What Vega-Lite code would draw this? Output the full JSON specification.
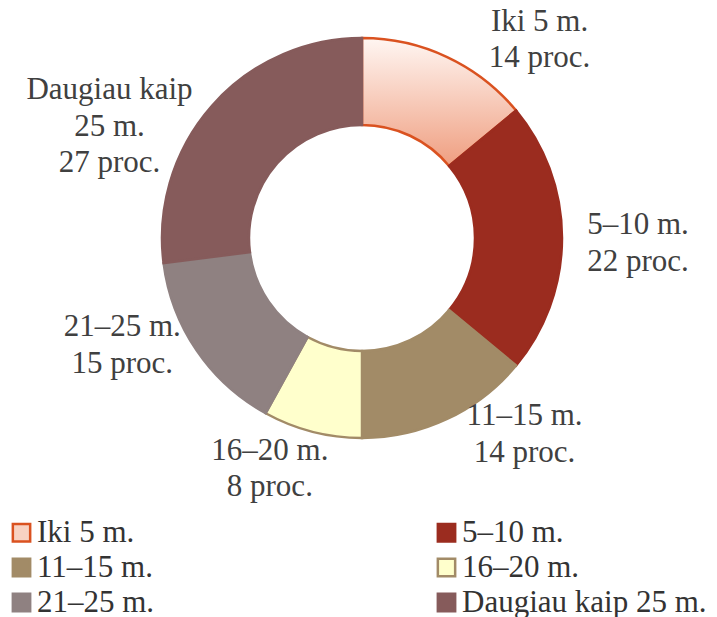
{
  "$schema": "https://vega.github.io/schema/vega-lite/v6.json",
  "width": 710,
  "height": 476,
  "padding": {"left": 7, "top": 0, "right": 0, "bottom": 141},
  "autosize": {"type": "none"},
  "background": "white",
  "config": {"view": {"stroke": null}, "font": "Liberation Serif"},
  "data": {
    "values": [
      {"i": 1, "cat": "Iki 5 m.", "value": 14, "label": "Iki 5 m.\n14 proc."},
      {"i": 2, "cat": "5–10 m.", "value": 22, "label": "5–10 m.\n22 proc."},
      {"i": 3, "cat": "11–15 m.", "value": 14, "label": "11–15 m.\n14 proc."},
      {"i": 4, "cat": "16–20 m.", "value": 8, "label": "16–20 m.\n8 proc."},
      {"i": 5, "cat": "21–25 m.", "value": 15, "label": "21–25 m.\n15 proc."},
      {"i": 6, "cat": "Daugiau kaip 25 m.", "value": 27, "label": "Daugiau kaip\n25 m.\n27 proc."}
    ]
  },
  "encoding": {
    "theta": {"field": "value", "type": "quantitative", "stack": true},
    "order": {"field": "i", "type": "quantitative", "sort": "ascending"}
  },
  "layer": [
    {
      "mark": {"type": "arc", "outerRadius": 200, "innerRadius": 113, "strokeWidth": 2.5},
      "encoding": {
        "fill": {
          "field": "cat",
          "type": "nominal",
          "sort": null,
          "scale": {
            "domain": ["Iki 5 m.", "5–10 m.", "11–15 m.", "16–20 m.", "21–25 m.", "Daugiau kaip 25 m."],
            "range": ["#F8D2C2", "#9B2C1F", "#A28B67", "#FFFFCC", "#8F8181", "#865B5B"]
          },
          "condition": {
            "test": "datum.cat === 'Iki 5 m.'",
            "value": {
              "gradient": "linear",
              "x1": 0, "y1": 0, "x2": 0, "y2": 1,
              "stops": [
                {"offset": 0, "color": "#FFF6F2"},
                {"offset": 1, "color": "#EF9E80"}
              ]
            }
          },
          "legend": {
            "orient": "none",
            "legendX": -1,
            "legendY": 517,
            "direction": "horizontal",
            "columns": 2,
            "columnPadding": 276,
            "rowPadding": 3,
            "title": null,
            "symbolType": "square",
            "symbolSize": 300,
            "symbolStrokeWidth": 2.5,
            "labelFont": "Liberation Serif",
            "labelFontSize": 31,
            "labelColor": "#333333",
            "labelOffset": 0,
            "labelLimit": 400
          }
        },
        "stroke": {
          "field": "cat",
          "type": "nominal",
          "sort": null,
          "scale": {
            "domain": ["Iki 5 m.", "5–10 m.", "11–15 m.", "16–20 m.", "21–25 m.", "Daugiau kaip 25 m."],
            "range": ["#DA5220", "#9B2C1F", "#A28B67", "#A28B67", "#8F8181", "#865B5B"]
          }
        }
      }
    },
    {
      "mark": {
        "type": "text",
        "radius": 262,
        "fontSize": 31,
        "lineBreak": "\n",
        "lineHeight": 36.5,
        "color": "#404040",
        "align": "center",
        "baseline": "middle",
        "dx": {"expr": "datum.cat === 'Iki 5 m.' ? 66 : datum.cat === '5–10 m.' ? 14 : datum.cat === '11–15 m.' ? 51 : datum.cat === '16–20 m.' ? -27 : datum.cat === '21–25 m.' ? -23 : -56"},
        "dy": {"expr": "datum.cat === 'Iki 5 m.' ? 21 : datum.cat === '5–10 m.' ? -13 : datum.cat === '11–15 m.' ? -59 : datum.cat === '16–20 m.' ? -41 : datum.cat === '21–25 m.' ? -58 : 25.5"}
      },
      "encoding": {"text": {"field": "label", "type": "nominal"}}
    }
  ]
}
